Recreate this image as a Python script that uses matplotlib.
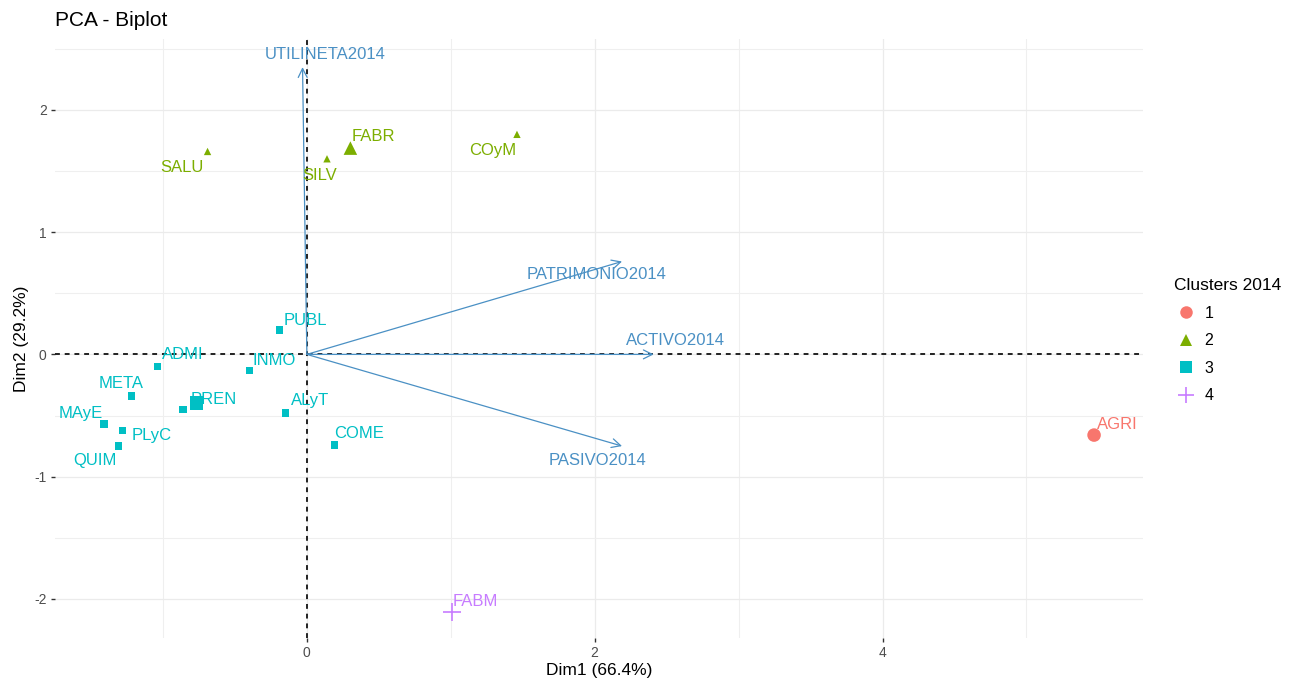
import numpy as np
import matplotlib
matplotlib.use("Agg")
import matplotlib.pyplot as plt
from matplotlib.lines import Line2D

plt.rcParams['font.family'] = ['Liberation Sans', 'DejaVu Sans']
plt.rcParams['axes.unicode_minus'] = False

# individuals (sector codes) with their PCA coordinates and cluster
names = ['AGRI', 'SALU', 'SILV', 'FABR', 'COyM',
         'PUBL', 'ADMI', 'INMO', 'META', 'PREN', 'ALyT',
         'MAyE', 'PLyC', 'QUIM', 'COME', 'FABM']
dim1 = [5.47, -0.69, 0.14, 0.30, 1.46,
        -0.19, -1.04, -0.40, -1.22, -0.86, -0.15,
        -1.41, -1.28, -1.31, 0.19, 1.01]
dim2 = [-0.66, 1.66, 1.60, 1.69, 1.80,
        0.20, -0.10, -0.13, -0.34, -0.45, -0.48,
        -0.57, -0.62, -0.75, -0.74, -2.11]
cluster = [1, 2, 2, 2, 2,
           3, 3, 3, 3, 3, 3,
           3, 3, 3, 3, 4]

# variables (loadings scaled for the biplot)
var_names = ['UTILINETA2014', 'PATRIMONIO2014', 'ACTIVO2014', 'PASIVO2014']
var_x = [-0.03, 2.19, 2.41, 2.19]
var_y = [2.35, 0.76, 0.0, -0.75]

cl_colors = {1: '#F8766D', 2: '#7CAE00', 3: '#00BFC4', 4: '#C77CFF'}
cl_markers = {1: 'o', 2: '^', 3: 's', 4: '+'}
var_color = '#4A90C4'

fig = plt.figure(figsize=(12.89, 6.86), dpi=100)
ax = fig.add_axes([55 / 1289, 1 - 638 / 686, (1143 - 55) / 1289, (638 - 39) / 686])

ax.set_xlim(-1.75, 5.81)
ax.set_ylim(-2.32, 2.58)

# grid like theme_minimal
ax.set_xticks([0, 2, 4])
ax.set_yticks([-2, -1, 0, 1, 2])
ax.set_xticks([-1, 1, 3, 5], minor=True)
ax.set_yticks([-1.5, -0.5, 0.5, 1.5, 2.5], minor=True)
ax.grid(True, which='major', color='#EBEBEB', lw=0.9, zorder=0)
ax.grid(True, which='minor', color='#EFEFEF', lw=0.8, zorder=0)
for s in ax.spines.values():
    s.set_visible(False)
ax.tick_params(which='major', length=3, width=1.0, color='#333333',
               labelsize=10, labelcolor='#4D4D4D', pad=3)
ax.tick_params(which='minor', length=0)

ax.axhline(0, color='#222222', ls=(0, (2.5, 2.5)), lw=1.4, zorder=2)
ax.axvline(0, color='#222222', ls=(0, (2.5, 2.5)), lw=1.4, zorder=2)

# variable arrows
label_off = {'UTILINETA2014': (0.16, 0.10), 'PATRIMONIO2014': (-0.18, -0.11),
             'ACTIVO2014': (0.15, 0.11), 'PASIVO2014': (-0.17, -0.12)}
for name, vx, vy in zip(var_names, var_x, var_y):
    ax.annotate('', xy=(vx, vy), xytext=(0, 0),
                arrowprops=dict(arrowstyle='->', color=var_color, lw=0.9,
                                mutation_scale=16, shrinkA=0, shrinkB=0),
                zorder=3)
    dx, dy = label_off[name]
    ax.text(vx + dx, vy + dy, name, color=var_color, fontsize=12,
            ha='center', va='center', zorder=4)

# individual points
for n, x, y, c in zip(names, dim1, dim2, cluster):
    if c == 4:
        ax.scatter(x, y, marker='+', s=160, color=cl_colors[c], lw=1.2, zorder=5)
    else:
        ax.scatter(x, y, marker=cl_markers[c], s=28, color=cl_colors[c],
                   edgecolors='none', zorder=5)

# cluster means drawn as bigger markers
for c in [1, 2, 3]:
    xs = [x for x, k in zip(dim1, cluster) if k == c]
    ys = [y for y, k in zip(dim2, cluster) if k == c]
    ax.scatter(np.mean(xs), np.mean(ys), marker=cl_markers[c], s=95,
               color=cl_colors[c], edgecolors='none', zorder=5)

# point labels, offsets in data units
offsets = {
    'AGRI': (0.16, 0.09), 'SALU': (-0.18, -0.13), 'SILV': (-0.05, -0.14),
    'FABR': (0.16, 0.09), 'COyM': (-0.17, -0.13),
    'PUBL': (0.18, 0.08), 'ADMI': (0.18, 0.10), 'INMO': (0.17, 0.08),
    'META': (-0.07, 0.10), 'PREN': (0.21, 0.08), 'ALyT': (0.17, 0.10),
    'MAyE': (-0.16, 0.09), 'PLyC': (0.20, -0.04), 'QUIM': (-0.16, -0.12),
    'COME': (0.17, 0.09), 'FABM': (0.16, 0.09),
}
for n, x, y, c in zip(names, dim1, dim2, cluster):
    dx, dy = offsets[n]
    ax.text(x + dx, y + dy, n, color=cl_colors[c], fontsize=12,
            ha='center', va='center', zorder=6)

ax.set_xlabel('Dim1 (66.4%)', fontsize=12.5, color='black', labelpad=2)
ax.set_ylabel('Dim2 (29.2%)', fontsize=12.5, color='black', labelpad=4)
fig.text(55 / 1289, 1 - 20 / 686, 'PCA - Biplot', fontsize=15,
         ha='left', va='center')

handles = [Line2D([], [], ls='none', marker=cl_markers[c],
                  markersize=12 if c == 4 else 9, color=cl_colors[c],
                  markeredgewidth=1.2 if c == 4 else 0)
           for c in [1, 2, 3, 4]]
leg = fig.legend(handles, ['1', '2', '3', '4'], title='Clusters 2014',
                 loc='upper left', bbox_to_anchor=(1160 / 1289, 1 - 264 / 686),
                 frameon=False, fontsize=11.5, title_fontsize=12.5,
                 labelspacing=0.78, handlelength=1.4, handletextpad=0.5,
                 alignment='left')

fig.savefig('out.png', dpi=100)
